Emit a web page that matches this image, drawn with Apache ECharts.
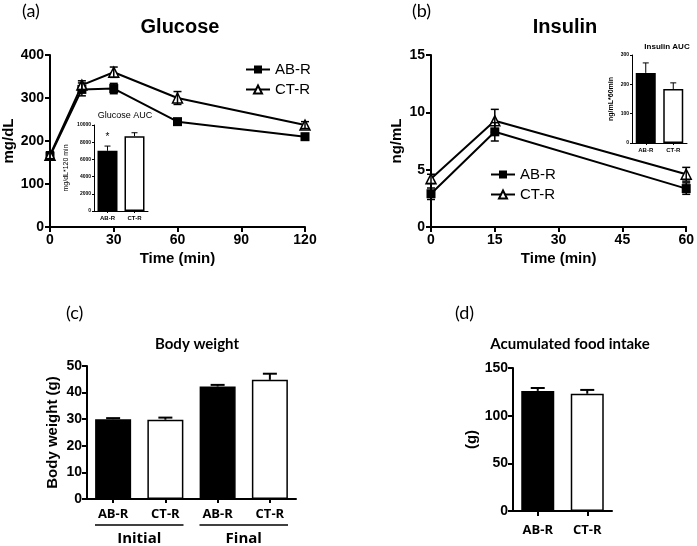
<!DOCTYPE html>
<html><head><meta charset="utf-8">
<script src="https://cdn.jsdelivr.net/npm/echarts@6/dist/echarts.min.js"></script>
<style>html,body{margin:0;padding:0;background:#fff}#c{width:697px;height:546px}</style>
</head><body><div id="c"></div>
<script>
// ---- data ----
const groups = ['AB-R', 'CT-R'];
const glucoseTime = [0, 15, 30, 60, 120];
const glucoseAB = [165, 320, 322, 245, 210];
const glucoseABErr = [8, 15, 12, 5, 5];
const glucoseCT = [167, 330, 360, 300, 237];
const glucoseCTErr = [8, 10, 12, 15, 8];
const glucoseAUC = [7000, 8700];
const glucoseAUCErr = [550, 400];
const insulinTime = [0, 15, 60];
const insulinAB = [2.9, 8.3, 3.35];
const insulinABErr = [0.5, 0.8, 0.5];
const insulinCT = [4.2, 9.26, 4.6];
const insulinCTErr = [0.4, 1.0, 0.6];
const insulinAUC = [239, 184];
const insulinAUCErr = [34, 21];
const bwCategories = ['AB-R', 'CT-R', 'AB-R', 'CT-R'];
const bwPhases = ['Initial', 'Final'];
const bodyWeight = [30.0, 29.8, 42.3, 44.8];
const bodyWeightErr = [0.4, 0.8, 0.6, 2.3];
const foodIntake = [126, 123];
const foodIntakeErr = [3, 4];

const chart = echarts.init(document.getElementById('c'));
const F = 'Liberation Sans, Arial, sans-serif';
const C = 'Lato, Open Sans, sans-serif';
const O = 'Open Sans, Lato, sans-serif';

function axisBase(fs, lw, tl, margin, family) {
  return {
    axisLine: {show: true, lineStyle: {color: '#000', width: lw}},
    axisTick: {show: true, length: tl, lineStyle: {color: '#000', width: lw}},
    splitLine: {show: false},
    axisLabel: {color: '#000', fontFamily: family || F, fontWeight: 'bold', fontSize: fs, margin: margin,
      formatter: function (v) { return String(v); }}
  };
}
function errSeries(x, y, e, both, cap, xi, yi, lw) {
  return {
    type: 'custom', xAxisIndex: xi, yAxisIndex: yi, z: 5, silent: true,
    data: y.map((v, i) => [x[i], v, e[i]]),
    encode: {x: 0, y: 1},
    renderItem: function (params, api) {
      const xv = api.value(0), yv = api.value(1), ev = api.value(2);
      const t = api.coord([xv, yv + ev]);
      const b = api.coord([xv, both ? yv - ev : yv]);
      const st = {stroke: '#000', lineWidth: lw};
      return {type: 'group', children: [
        {type: 'line', shape: {x1: t[0], y1: t[1], x2: b[0], y2: b[1]}, style: st},
        {type: 'line', shape: {x1: t[0] - cap, y1: t[1], x2: t[0] + cap, y2: t[1]}, style: st},
        both ? {type: 'line', shape: {x1: b[0] - cap, y1: b[1], x2: b[0] + cap, y2: b[1]}, style: st} : {type: 'group'}
      ]};
    }
  };
}
function pairs(x, y) { return y.map((v, i) => [x[i], v]); }
const lineAB = {type: 'line', symbol: 'rect', symbolSize: 9, lineStyle: {color: '#000', width: 2}, itemStyle: {color: '#000'}, z: 4};
const lineCT = {type: 'line', symbol: 'triangle', symbolSize: 10, lineStyle: {color: '#000', width: 2}, itemStyle: {color: '#fff', borderColor: '#000', borderWidth: 1.5}, z: 4};
const barAB = {color: '#000', borderColor: '#000', borderWidth: 1.5};
const barCT = {color: '#fff', borderColor: '#000', borderWidth: 1.5};
const nameBold = {fontFamily: F, fontWeight: 'bold', fontSize: 15, color: '#000'};

const option = {
  backgroundColor: '#fff',
  animation: false,
  title: [
    {text: 'Glucose', left: 175, top: 12, textAlign: 'center', textStyle: {fontFamily: F, fontWeight: 'bold', fontSize: 20, color: '#000'}},
    {text: 'Insulin', left: 560, top: 12, textAlign: 'center', textStyle: {fontFamily: F, fontWeight: 'bold', fontSize: 20, color: '#000'}},
    {text: 'Glucose AUC', left: 120, top: 106, textAlign: 'center', textStyle: {fontFamily: F, fontWeight: 'normal', fontSize: 9, color: '#000'}},
    {text: 'Insulin AUC', left: 662, top: 38, textAlign: 'center', textStyle: {fontFamily: F, fontWeight: 'bold', fontSize: 8, color: '#000'}},
    {text: 'Body weight', left: 192, top: 332, textAlign: 'center', textStyle: {fontFamily: C, fontWeight: 'bold', fontSize: 15, color: '#000'}},
    {text: 'Acumulated food intake', left: 565, top: 332, textAlign: 'center', textStyle: {fontFamily: C, fontWeight: 'bold', fontSize: 15, color: '#000'}}
  ],
  legend: [
    {data: [{name: 'AB-R'}, {name: 'CT-R'}], left: 240, top: 57, orient: 'vertical', itemWidth: 24, itemHeight: 10, itemGap: 5,
      textStyle: {fontFamily: F, fontSize: 15, color: '#000'}},
    {data: [{name: 'AB-R'}, {name: 'CT-R'}], left: 485, top: 162, orient: 'vertical', itemWidth: 24, itemHeight: 10, itemGap: 5,
      textStyle: {fontFamily: F, fontSize: 15, color: '#000'}}
  ],
  grid: [
    {left: 48, top: 55, width: 257, height: 172},
    {left: 94, top: 125, width: 54, height: 86},
    {left: 431, top: 55, width: 257, height: 172},
    {left: 632, top: 55, width: 55, height: 88},
    {left: 87, top: 366, width: 209, height: 136},
    {left: 513, top: 368, width: 99, height: 143}
  ],
  xAxis: [
    Object.assign(axisBase(14, 2, 5, 6), {gridIndex: 0, type: 'value', min: 0, max: 120, interval: 30, name: 'Time (min)', nameLocation: 'middle', nameGap: 24, nameTextStyle: nameBold}),
    Object.assign(axisBase(6, 1, 2, 4), {gridIndex: 1, type: 'category', data: groups, axisTick: {show: true, alignWithLabel: true, length: 2, lineStyle: {color: '#000', width: 1}}}),
    Object.assign(axisBase(14, 2, 5, 6), {gridIndex: 2, type: 'value', min: 0, max: 60, interval: 15, name: 'Time (min)', nameLocation: 'middle', nameGap: 24, nameTextStyle: nameBold}),
    Object.assign(axisBase(6, 1, 2, 4), {gridIndex: 3, type: 'category', data: groups, axisTick: {show: true, alignWithLabel: true, length: 2, lineStyle: {color: '#000', width: 1}}}),
    Object.assign(axisBase(13, 2, 4, 9, O), {gridIndex: 4, type: 'category', data: bwCategories, axisTick: {show: true, alignWithLabel: true, length: 4, lineStyle: {color: '#000', width: 2}}}),
    Object.assign(axisBase(13, 2, 4, 13, O), {gridIndex: 5, type: 'category', data: groups, axisTick: {show: true, alignWithLabel: true, length: 5, lineStyle: {color: '#000', width: 2}}}),
    {gridIndex: 4, type: 'category', data: bwPhases, position: 'bottom', offset: 28, axisLine: {show: false}, axisTick: {show: false}, splitLine: {show: false},
      axisLabel: {color: '#000', fontFamily: O, fontWeight: 'bold', fontSize: 15, margin: 4}}
  ],
  yAxis: [
    Object.assign(axisBase(14, 2, 5, 6), {gridIndex: 0, type: 'value', min: 0, max: 400, interval: 100, name: 'mg/dL', nameLocation: 'middle', nameGap: 34, nameTextStyle: nameBold}),
    Object.assign(axisBase(5, 1, 2, 3), {gridIndex: 1, type: 'value', min: 0, max: 10000, interval: 2000, name: 'mg/dL*120 min', nameLocation: 'middle', nameGap: 24, nameTextStyle: {fontFamily: F, fontSize: 7, color: '#000'}}),
    Object.assign(axisBase(14, 2, 5, 6), {gridIndex: 2, type: 'value', min: 0, max: 15, interval: 5, name: 'ng/mL', nameLocation: 'middle', nameGap: 27, nameTextStyle: nameBold}),
    Object.assign(axisBase(5, 1, 2, 3), {gridIndex: 3, type: 'value', min: 0, max: 300, interval: 100, name: 'ng/mL*60min', nameLocation: 'middle', nameGap: 17, nameTextStyle: {fontFamily: F, fontWeight: 'bold', fontSize: 7, color: '#000'}}),
    Object.assign(axisBase(14, 2, 5, 5), {gridIndex: 4, type: 'value', min: 0, max: 50, interval: 10, name: 'Body weight (g)', nameLocation: 'middle', nameGap: 27, nameTextStyle: nameBold}),
    Object.assign(axisBase(14, 2, 5, 5), {gridIndex: 5, type: 'value', min: 0, max: 150, interval: 50, name: '(g)', nameLocation: 'middle', nameGap: 34, nameTextStyle: nameBold})
  ],
  series: [
    // (a) glucose
    errSeries(glucoseTime, glucoseAB, glucoseABErr, true, 4, 0, 0, 1.5),
    errSeries(glucoseTime, glucoseCT, glucoseCTErr, true, 4, 0, 0, 1.5),
    Object.assign({}, lineAB, {name: 'AB-R', xAxisIndex: 0, yAxisIndex: 0, data: pairs(glucoseTime, glucoseAB)}),
    Object.assign({}, lineCT, {name: 'CT-R', xAxisIndex: 0, yAxisIndex: 0, data: pairs(glucoseTime, glucoseCT)}),
    // inset a
    {type: 'bar', xAxisIndex: 1, yAxisIndex: 1, barWidth: 20,
      data: [
        {value: glucoseAUC[0], itemStyle: barAB, label: {show: true, position: 'top', distance: 9, formatter: '*', fontSize: 10, color: '#000', fontFamily: F}},
        {value: glucoseAUC[1], itemStyle: barCT}
      ]},
    errSeries([0, 1], glucoseAUC, glucoseAUCErr, false, 3, 1, 1, 1),
    // (b) insulin
    errSeries(insulinTime, insulinAB, insulinABErr, true, 4, 2, 2, 1.5),
    errSeries(insulinTime, insulinCT, insulinCTErr, true, 4, 2, 2, 1.5),
    Object.assign({}, lineAB, {name: 'AB-R', xAxisIndex: 2, yAxisIndex: 2, data: pairs(insulinTime, insulinAB)}),
    Object.assign({}, lineCT, {name: 'CT-R', xAxisIndex: 2, yAxisIndex: 2, data: pairs(insulinTime, insulinCT)}),
    // inset b
    {type: 'bar', xAxisIndex: 3, yAxisIndex: 3, barWidth: 20,
      data: [{value: insulinAUC[0], itemStyle: barAB}, {value: insulinAUC[1], itemStyle: barCT}]},
    errSeries([0, 1], insulinAUC, insulinAUCErr, false, 3, 3, 3, 1),
    // (c) body weight
    {type: 'bar', xAxisIndex: 4, yAxisIndex: 4, barWidth: 36,
      data: bodyWeight.map((v, i) => ({value: v, itemStyle: i % 2 === 0 ? barAB : barCT}))},
    errSeries([0, 1, 2, 3], bodyWeight, bodyWeightErr, false, 7, 4, 4, 2),
    // (d) food intake
    {type: 'bar', xAxisIndex: 5, yAxisIndex: 5, barWidth: 33,
      data: foodIntake.map((v, i) => ({value: v, itemStyle: i === 0 ? barAB : barCT}))},
    errSeries([0, 1], foodIntake, foodIntakeErr, false, 7, 5, 5, 2)
  ],
  graphic: [
    {type: 'text', left: 22, top: 2, style: {text: '(a)', fontFamily: C, fontSize: 18, fill: '#000'}},
    {type: 'text', left: 412, top: 2, style: {text: '(b)', fontFamily: C, fontSize: 18, fill: '#000'}},
    {type: 'text', left: 66, top: 304, style: {text: '(c)', fontFamily: C, fontSize: 18, fill: '#000'}},
    {type: 'text', left: 455, top: 304, style: {text: '(d)', fontFamily: C, fontSize: 18, fill: '#000'}}
  ]
};
chart.setOption(option);

// underline the two phase groups beneath the category labels of panel (c)
const p0 = chart.convertToPixel({xAxisIndex: 4}, 0);
const p1 = chart.convertToPixel({xAxisIndex: 4}, 1);
const p2 = chart.convertToPixel({xAxisIndex: 4}, 2);
const p3 = chart.convertToPixel({xAxisIndex: 4}, 3);
const yLine = chart.convertToPixel({yAxisIndex: 4}, 0) + 26;
const half = (p1 - p0) / 2 - 8;
chart.setOption({graphic: option.graphic.concat([
  {type: 'line', shape: {x1: p0 - half, y1: yLine, x2: p1 + half, y2: yLine}, style: {stroke: '#000', lineWidth: 1.5}},
  {type: 'line', shape: {x1: p2 - half, y1: yLine, x2: p3 + half, y2: yLine}, style: {stroke: '#000', lineWidth: 1.5}}
])});
</script></body></html>
